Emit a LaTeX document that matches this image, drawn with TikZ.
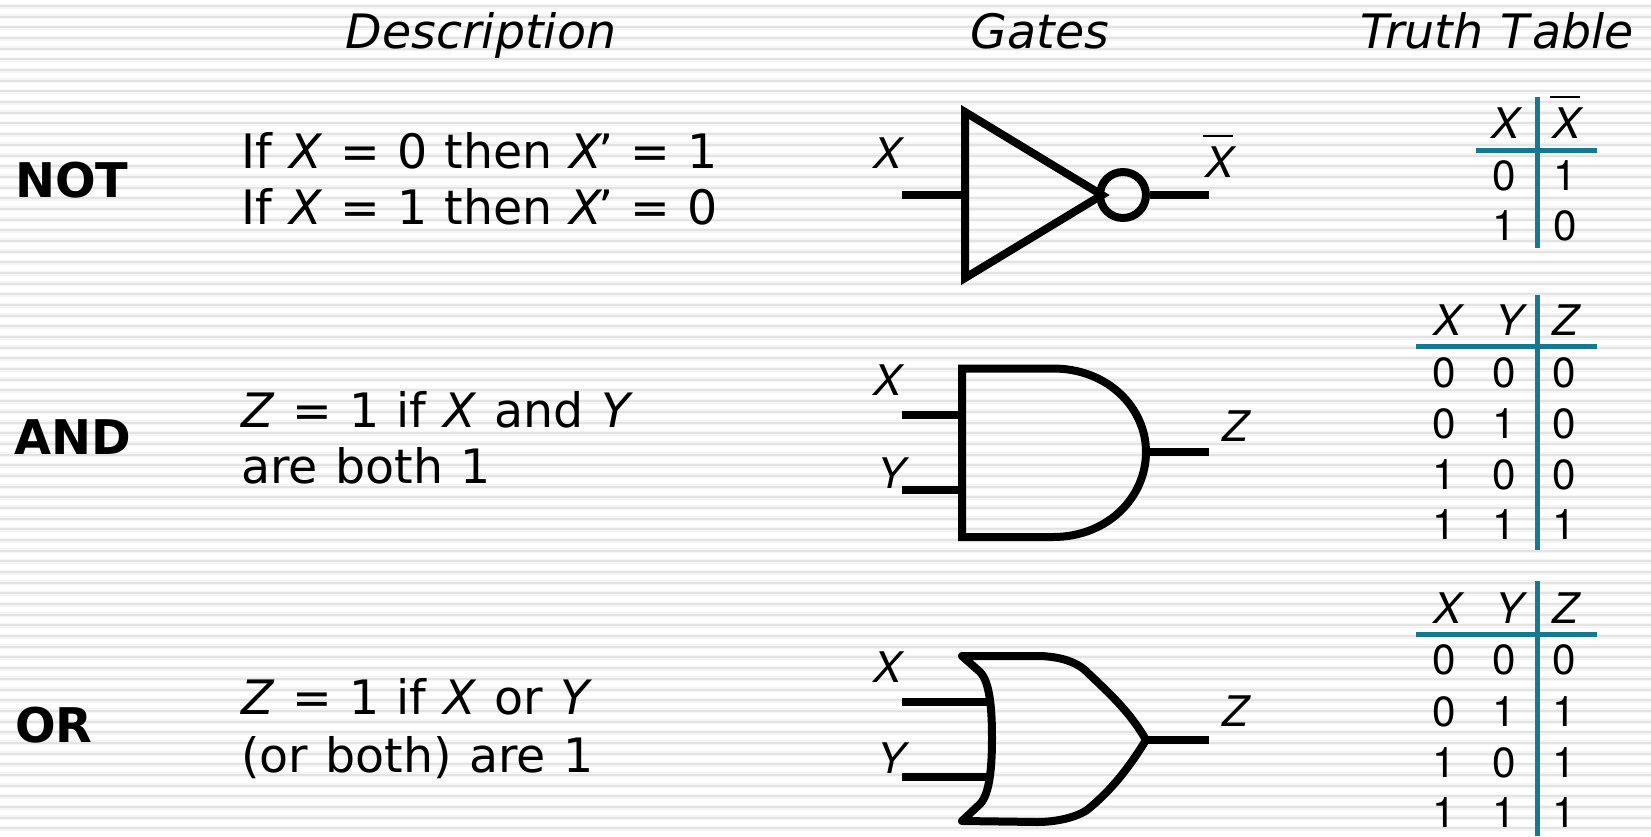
\documentclass[tikz,border=0pt]{standalone}
\usepackage{fontspec}
\setmainfont[WordSpace=1.15]{DejaVu Sans}
\setsansfont{TeX Gyre Heros}
\usetikzlibrary{positioning}
\definecolor{ttline}{HTML}{17798F}
\newcommand{\barx}{\rlap{\kern-0.05cm\rule[0.8cm]{0.6cm}{0.05cm}}\textit{X}}
\newcommand{\xprime}{\textit{X}\kern-0.1cm’}

\begin{document}
\begin{tikzpicture}[
  x=0.02cm, y=-0.02cm,
  headtxt/.style={anchor=base, inner sep=0pt, font=\fontsize{27}{30}\selectfont\itshape},
  nametxt/.style={anchor=base west, inner sep=0pt, font=\fontsize{27.2}{30}\selectfont\bfseries},
  desctxt/.style={anchor=base west, inner sep=0pt, font=\fontsize{27}{30}\selectfont},
  pinlbl/.style={anchor=base, inner sep=0pt, font=\fontsize{24}{28}\selectfont\sffamily\itshape},
  ttxt/.style={anchor=base, inner sep=0pt, font=\fontsize{24}{28}\selectfont\sffamily},
  gatebody/.style={line width=0.16cm, line join=miter},
  wire/.style={line width=0.16cm},
  ttrule/.style={line width=0.1cm, ttline},
]
\useasboundingbox (0,0) rectangle (1651,836);
\fill[white] (0,0) rectangle (1651,836);
% Stripes
\foreach \i in {0,...,78} {
  \draw[black!4, line width=0.1cm] (0,6+10.68*\i) -- (1651,6+10.68*\i);
  \draw[black!11, line width=0.04cm] (0,6+10.68*\i) -- (1651,6+10.68*\i);
}
% Headings
\node[headtxt] (hdesc) at (481,48) {Description};
\node[headtxt] (hgates) at (1040,48) {Gates};
\node[headtxt] (htable) at (1497,48) {Truth T\kern0.05cm able};
% Names
\node[nametxt] (nnot) at (15,197) {NOT};
\node[nametxt] (nand) at (14,454) {AND};
\node[nametxt] (nor) at (15,742) {OR};
% Descriptions
\node[desctxt] (dnota) at (241,168) {If \textit{X} = 0 then \xprime\ = 1};
\node[desctxt] (dnotb) at (241,224) {If \textit{X} = 1 then \xprime\ = 0};
\node[desctxt] (danda) at (241,427) {\textit{Z} = 1 if \textit{X} and \textit{Y}};
\node[desctxt] (dandb) at (241,483) {are both 1};
\node[desctxt] (dora) at (241,714) {\textit{Z} = 1 if \textit{X} or \textit{Y}};
\node[desctxt] (dorb) at (241,772) {(or both) are 1};

% NOT gate
\node[pinlbl] (notx) at (888,168) {X};
\node[pinlbl] (notz) at (1220,177) {\barx};
\coordinate (notin) at (902,195);
\coordinate (notout) at (1209,195);
\coordinate (nota) at (965,112);
\coordinate (notb) at (965,278);
\coordinate (notc) at (1102,195);
\node[draw, circle, line width=0.16cm, minimum size=0.92cm, inner sep=0pt] (notbub) at (1123,195) {};
\draw[gatebody] (nota) -- (notc) -- (notb) -- cycle;
\draw[wire] (notin) -- (notin -| nota);
\draw[wire] (notbub.east) -- (notout);

% AND gate
\node[pinlbl] (andx) at (888,395) {X};
\node[pinlbl] (andy) at (892,488) {Y};
\node[pinlbl] (andz) at (1235,441) {Z};
\coordinate (anda) at (962,368.5);
\coordinate (andb) at (962,537);
\coordinate (andc) at (1146,452);
\coordinate (andin) at (902,415);
\coordinate (andim) at (902,490);
\coordinate (andout) at (1209,452);
\draw[gatebody] (anda) -- (1053,368.5) .. controls (1108,368.5) and (1146,408) .. (andc)
  .. controls (1146,497) and (1108,537) .. (1053,537) -- (andb) -- cycle;
\draw[wire] (andin) -- (andin -| anda);
\draw[wire] (andim) -- (andim -| anda);
\draw[wire] (andc) -- (andout);

% OR gate
\node[pinlbl] (orx) at (888,682) {X};
\node[pinlbl] (ory) at (892,773) {Y};
\node[pinlbl] (orz) at (1235,726) {Z};
\coordinate (ora) at (962,656);
\coordinate (orb) at (962,821);
\coordinate (orc) at (1146,740);
\coordinate (orin) at (902,702);
\coordinate (orim) at (902,777);
\coordinate (orout) at (1209,740);
\draw[gatebody, line join=round] (ora) -- (1037,656) .. controls (1055,656) and (1075,660) .. (1087,672)
  .. controls (1110,694) and (1130,712) .. (orc)
  .. controls (1130,766) and (1112,790) .. (1087,810)
  .. controls (1075,818) and (1055,822) .. (1037,822) -- (orb) -- (980,804)
  .. controls (990,794) and (992,765) .. (992,738)
  .. controls (992,710) and (990,682) .. (980,672) -- cycle;
\draw[wire] (orin) -- (987,702);
\draw[wire] (orim) -- (987,777);
\draw[wire] (orc) -- (orout);

% NOT table
\draw[ttrule] (1537,97) -- (1537,248);
\draw[ttrule] (1476,150) -- (1597,150);
\node[ttxt] (tnx) at (1507,138) {\textit{X}};
\node[ttxt] (tnz) at (1568,138) {\barx};
\foreach \y/\p/\q [count=\i] in {190/0/1, 240/1/0} {
  \node[ttxt] (tnp\i) at (1504,\y) {\p};
  \node[ttxt] (tnq\i) at (1565,\y) {\q};
}
% AND table
\draw[ttrule] (1537,295) -- (1537,550);
\draw[ttrule] (1416,346) -- (1597,346);
\node[ttxt] (tax) at (1449,335) {\textit{X}};
\node[ttxt] (tay) at (1512,335) {\textit{Y}};
\node[ttxt] (taz) at (1567,335) {\textit{Z}};
\foreach \y/\p/\q/\r [count=\i] in {387/0/0/0, 438/0/1/0, 489/1/0/0, 539/1/1/1} {
  \node[ttxt] (tap\i) at (1444,\y) {\p};
  \node[ttxt] (taq\i) at (1504,\y) {\q};
  \node[ttxt] (tar\i) at (1564,\y) {\r};
}
% OR table
\draw[ttrule] (1537,581) -- (1537,836);
\draw[ttrule] (1416,634) -- (1597,634);
\node[ttxt] (tox) at (1449,623) {\textit{X}};
\node[ttxt] (toy) at (1512,623) {\textit{Y}};
\node[ttxt] (toz) at (1567,623) {\textit{Z}};
\foreach \y/\p/\q/\r [count=\i] in {674/0/0/0, 726/0/1/1, 777/1/0/1, 827/1/1/1} {
  \node[ttxt] (top\i) at (1444,\y) {\p};
  \node[ttxt] (toq\i) at (1504,\y) {\q};
  \node[ttxt] (tor\i) at (1564,\y) {\r};
}
\end{tikzpicture}
\end{document}
